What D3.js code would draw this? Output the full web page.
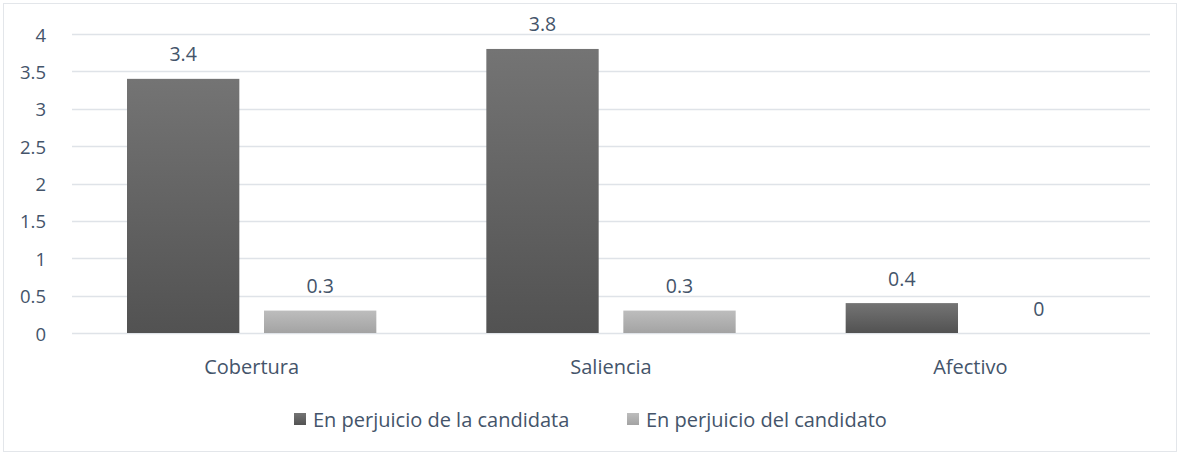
<!DOCTYPE html>
<html>
<head>
<meta charset="utf-8">
<script src="https://cdn.jsdelivr.net/npm/d3@7"></script>
<style>
  body { margin: 0; background: #fff; }
  text { font-family: "Open Sans", sans-serif; fill: #44546a; }
</style>
</head>
<body>
<div id="chart"></div>
<script>
// data
const categories = ["Cobertura", "Saliencia", "Afectivo"];
const seriesNames = ["En perjuicio de la candidata", "En perjuicio del candidato"];
const candidata = [3.4, 3.8, 0.4];
const candidato = [0.3, 0.3, 0];
const yTicks = [0, 0.5, 1, 1.5, 2, 2.5, 3, 3.5, 4];

const WIDTH = 1180, HEIGHT = 455;
const plot = { left: 72, right: 1150, top: 34, bottom: 333 };
const FONT = "20px";

const svg = d3.select("#chart").append("svg")
  .attr("width", WIDTH)
  .attr("height", HEIGHT);

// gradients for the two series
const defs = svg.append("defs");
const grads = [
  { id: "g0", top: "#747474", bottom: "#525252" },
  { id: "g1", top: "#bdbdbd", bottom: "#a3a3a3" }
];
grads.forEach(g => {
  const lg = defs.append("linearGradient").attr("id", g.id)
    .attr("x1", 0).attr("y1", 0).attr("x2", 0).attr("y2", 1);
  lg.append("stop").attr("offset", "0%").attr("stop-color", g.top);
  lg.append("stop").attr("offset", "100%").attr("stop-color", g.bottom);
});

// chart border
svg.append("rect")
  .attr("x", 3.5).attr("y", 3.5)
  .attr("width", WIDTH - 7).attr("height", HEIGHT - 7)
  .attr("fill", "white")
  .attr("stroke", "#e3e6ea");

const y = d3.scaleLinear().domain([0, 4]).range([plot.bottom, plot.top]);
const x0 = d3.scaleBand().domain(categories).range([plot.left, plot.right]);
const x1 = d3.scaleBand().domain([0, 1]).range([55, x0.bandwidth() - 55]).paddingInner(0.18);

// gridlines
svg.append("g")
  .selectAll("line")
  .data(yTicks)
  .enter()
  .append("line")
  .attr("x1", plot.left).attr("x2", plot.right)
  .attr("y1", d => Math.round(y(d)) + 0.5)
  .attr("y2", d => Math.round(y(d)) + 0.5)
  .attr("stroke", "#dfe3e8")
  .attr("stroke-width", 1.5);

// y tick labels
svg.append("g")
  .selectAll("text")
  .data(yTicks)
  .enter()
  .append("text")
  .attr("x", 46)
  .attr("y", d => y(d))
  .attr("text-anchor", "end")
  .attr("dominant-baseline", "central")
  .style("font-size", "18.5px")
  .text(d => d);

// bars
const series = [candidata, candidato];
const groups = svg.append("g")
  .selectAll("g.cat")
  .data(categories)
  .enter()
  .append("g")
  .attr("class", "cat")
  .attr("transform", d => `translate(${x0(d)},0)`);

groups.each(function (cat, ci) {
  const g = d3.select(this);
  const vals = series.map((s, si) => ({ si, v: s[ci] }));
  g.selectAll("rect")
    .data(vals)
    .enter()
    .append("rect")
    .attr("x", d => x1(d.si))
    .attr("y", d => y(d.v))
    .attr("width", x1.bandwidth())
    .attr("height", d => y(0) - y(d.v))
    .attr("fill", d => `url(#g${d.si})`);

  g.selectAll("text.val")
    .data(vals)
    .enter()
    .append("text")
    .attr("class", "val")
    .attr("x", d => x1(d.si) + x1.bandwidth() / 2)
    .attr("y", d => y(d.v) - 25)
    .attr("text-anchor", "middle")
    .attr("dominant-baseline", "central")
    .style("font-size", "19.5px")
    .text(d => d.v);

  g.append("text")
    .attr("x", x0.bandwidth() / 2)
    .attr("y", 366)
    .attr("text-anchor", "middle")
    .attr("dominant-baseline", "central")
    .style("font-size", FONT)
    .text(cat);
});

// legend
const legendX = [294, 627];
const legend = svg.append("g")
  .selectAll("g.item")
  .data(seriesNames)
  .enter()
  .append("g")
  .attr("class", "item")
  .attr("transform", (d, i) => `translate(${legendX[i]}, 419)`);

legend.append("rect")
  .attr("x", 0).attr("y", -6)
  .attr("width", 12).attr("height", 12)
  .attr("fill", (d, i) => `url(#g${i})`);

legend.append("text")
  .attr("x", 19)
  .attr("y", 0)
  .attr("dominant-baseline", "central")
  .style("font-size", FONT)
  .text(d => d);
</script>
</body>
</html>
